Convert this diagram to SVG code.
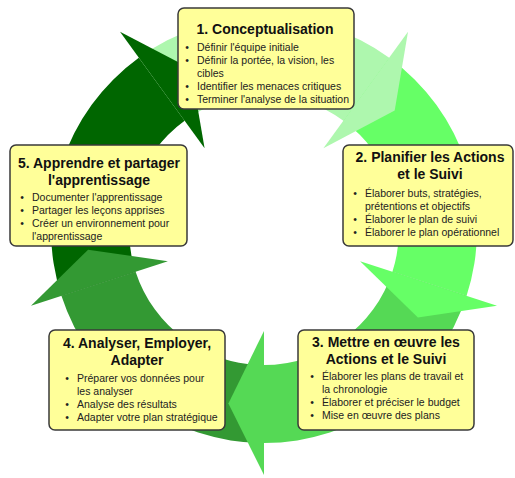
<svg xmlns="http://www.w3.org/2000/svg" width="515" height="478" viewBox="0 0 515 478">
<style>
.box{fill:#ffff99;stroke:#3a3a3a;stroke-width:1.5}
.t{font-family:"Liberation Sans",Arial,sans-serif;font-size:14px;font-weight:bold;fill:#111;text-anchor:middle}
.b{font-family:"Liberation Sans",Arial,sans-serif;font-size:10.5px;fill:#222}
.d{font-family:"Liberation Sans",Arial,sans-serif;font-size:10.5px;fill:#222;text-anchor:middle}
</style>
<rect width="515" height="478" fill="#ffffff"/>
<g id="connectors">
  <path fill="#aef7ae" d="M138.8,57.7 A213,213 0 0 1 389.2,57.7 L343.4,120.8 A135,135 0 0 0 184.6,120.8 Z"/>
  <path fill="#66ff66" d="M389.2,57.7 A213,213 0 0 1 466.6,295.8 L392.4,271.7 A135,135 0 0 0 343.4,120.8 Z"/>
  <path fill="#55d955" d="M466.6,295.8 A213,213 0 0 1 264,443 L264,365 A135,135 0 0 0 392.4,271.7 Z"/>
  <path fill="#339933" d="M264,443 A213,213 0 0 1 61.4,295.8 L135.6,271.7 A135,135 0 0 0 264,365 Z"/>
  <path fill="#006600" d="M61.4,295.8 A213,213 0 0 1 138.8,57.7 L184.6,120.8 A135,135 0 0 0 135.6,271.7 Z"/>
  <polygon fill="#aef7ae" points="323.4,148.3 408.0,31.8 394.7,110.6"/>
  <polygon fill="#66ff66" points="360.1,261.2 497.0,305.7 417.9,317.4"/>
  <polygon fill="#55d955" points="264,331 264,475 228.4,403.4"/>
  <polygon fill="#339933" points="167.9,261.2 31.0,305.7 88.1,249.7"/>
  <polygon fill="#006600" points="204.6,148.3 120.0,31.8 190.9,68.8"/>
</g>
<g id="node1">
  <rect class="box" x="178" y="8" width="176" height="101" rx="6"/>
  <text class="t" x="265" y="34">1. Conceptualisation</text>
  <text class="d" x="187" y="51">•</text><text class="b" x="197" y="51">Définir l'équipe initiale</text>
  <text class="d" x="187" y="64">•</text><text class="b" x="197" y="64">Définir la portée, la vision, les</text>
  <text class="b" x="197" y="77">cibles</text>
  <text class="d" x="187" y="90">•</text><text class="b" x="197" y="90">Identifier les menaces critiques</text>
  <text class="d" x="187" y="103">•</text><text class="b" x="197" y="103">Terminer l'analyse de la situation</text>
</g>
<g id="node2">
  <rect class="box" x="343" y="145" width="170" height="101" rx="6"/>
  <text class="t" x="430" y="162">2. Planifier les Actions</text>
  <text class="t" x="430" y="179">et le Suivi</text>
  <text class="d" x="355" y="197">•</text><text class="b" x="365" y="197">Élaborer buts, stratégies,</text>
  <text class="b" x="365" y="210">prétentions et objectifs</text>
  <text class="d" x="355" y="223">•</text><text class="b" x="365" y="223">Élaborer le plan de suivi</text>
  <text class="d" x="355" y="236">•</text><text class="b" x="365" y="236">Élaborer le plan opérationnel</text>
</g>
<g id="node3">
  <rect class="box" x="298" y="330" width="176" height="100" rx="6"/>
  <text class="t" x="386" y="347">3. Mettre en œuvre les</text>
  <text class="t" x="386" y="364">Actions et le Suivi</text>
  <text class="d" x="312" y="380">•</text><text class="b" x="322" y="380">Élaborer les plans de travail et</text>
  <text class="b" x="322" y="393">la chronologie</text>
  <text class="d" x="312" y="406">•</text><text class="b" x="322" y="406">Élaborer et préciser le budget</text>
  <text class="d" x="312" y="419">•</text><text class="b" x="322" y="419">Mise en œuvre des plans</text>
</g>
<g id="node4">
  <rect class="box" x="49" y="330" width="176" height="100" rx="6"/>
  <text class="t" x="137" y="348">4. Analyser, Employer,</text>
  <text class="t" x="137" y="365">Adapter</text>
  <text class="d" x="67" y="382">•</text><text class="b" x="77" y="382">Préparer vos données pour</text>
  <text class="b" x="77" y="395">les analyser</text>
  <text class="d" x="67" y="408">•</text><text class="b" x="77" y="408">Analyse des résultats</text>
  <text class="d" x="67" y="421">•</text><text class="b" x="77" y="421">Adapter votre plan stratégique</text>
</g>
<g id="node5">
  <rect class="box" x="10" y="145" width="177" height="101" rx="6"/>
  <text class="t" x="99" y="168">5. Apprendre et partager</text>
  <text class="t" x="99" y="185">l'apprentissage</text>
  <text class="d" x="22" y="201">•</text><text class="b" x="32" y="201">Documenter l'apprentissage</text>
  <text class="d" x="22" y="214">•</text><text class="b" x="32" y="214">Partager les leçons apprises</text>
  <text class="d" x="22" y="227">•</text><text class="b" x="32" y="227">Créer un environnement pour</text>
  <text class="b" x="32" y="240">l'apprentissage</text>
</g>
</svg>
